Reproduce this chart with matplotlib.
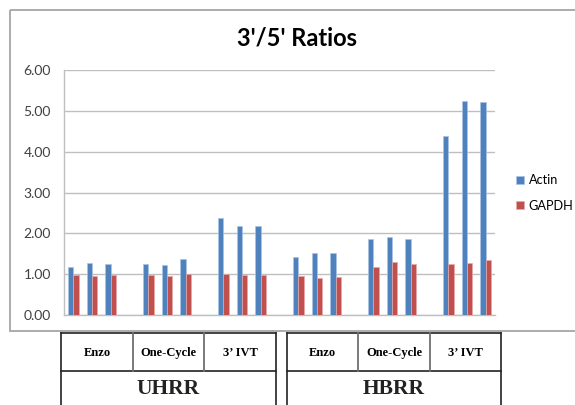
import numpy as np
import matplotlib
matplotlib.use("Agg")
import matplotlib.pyplot as plt
from matplotlib.patches import Rectangle

# 3'/5' ratios, three replicates per method, UHRR then HBRR
samples = ['UHRR', 'HBRR']
methods = ['Enzo', 'One-Cycle', '3\u2019 IVT']
actin = [1.18, 1.27, 1.25, 1.25, 1.23, 1.37, 2.37, 2.17, 2.17,
         1.42, 1.51, 1.52, 1.87, 1.90, 1.85, 4.39, 5.25, 5.21]
gapdh = [0.99, 0.96, 0.99, 0.98, 0.96, 1.01, 1.01, 0.99, 0.99,
         0.95, 0.91, 0.93, 1.17, 1.30, 1.25, 1.25, 1.27, 1.35]
yticks = [0, 1, 2, 3, 4, 5, 6]
n_rep = 3

W, H = 575, 405
fig = plt.figure(figsize=(W / 100, H / 100), dpi=100)

# overlay in pixel coords for the frame and the table under the chart
ov = fig.add_axes([0, 0, 1, 1])
ov.set_xlim(0, W)
ov.set_ylim(H, 0)
ov.axis('off')
ov.add_patch(Rectangle((10, 10), W + 10, 321, fill=False, ec='#a6a6a6', lw=1.3))

ax = fig.add_axes([64 / W, 1 - 315 / H, 431 / W, 245 / H])
n_groups = len(samples) * len(methods)
slots = np.array([g * (n_rep + 1) + r for g in range(n_groups) for r in range(n_rep)])
w = 0.286
ax.bar(slots - w / 2, actin, w, color='#4f81bd', edgecolor='#a9c4e6', lw=0.5, label='Actin', zorder=3)
ax.bar(slots + w / 2, gapdh, w, color='#c0504d', edgecolor='#e6a9a8', lw=0.5, label='GAPDH', zorder=3)

ax.set_xlim(-0.5, n_groups * (n_rep + 1) - 1.5)
ax.set_ylim(0, 6)
ax.set_yticks(yticks)
ax.set_yticklabels([f'{v:.2f}' for v in yticks], fontsize=10, color='#404040', family='Lato')
ax.tick_params(axis='y', length=0, pad=9.5)
ax.set_xticks([])
ax.yaxis.grid(True, color='#bfbfbf', lw=1, zorder=0)
for s in ['top', 'right']:
    ax.spines[s].set_visible(False)
for s in ['left', 'bottom']:
    ax.spines[s].set_color('#bfbfbf')
    ax.spines[s].set_linewidth(1)

fig.text(297 / W, 1 - 38 / H, "3'/5' Ratios", ha='center', va='center',
         fontsize=17, fontweight='bold', family='Lato')

fig.legend(loc='center left', bbox_to_anchor=(516 / W, 1 - 193 / H), frameon=False,
           prop={'family': 'Lato', 'size': 9.2}, handlelength=0.65, handleheight=0.65,
           handletextpad=0.35, labelspacing=1.05, borderpad=0, borderaxespad=0)

# table below the chart
tables = [[61, 133, 204, 276], [287, 358, 430, 501]]
top, mid, bot = 333, 371, H
for xs, sample in zip(tables, samples):
    ov.plot([xs[0], xs[-1]], [top, top], color='#222222', lw=1.2)
    ov.plot([xs[0], xs[-1]], [mid, mid], color='#222222', lw=1.2)
    ov.plot([xs[0], xs[0]], [top, bot], color='#222222', lw=1.2)
    ov.plot([xs[-1], xs[-1]], [top, bot], color='#222222', lw=1.2)
    for x in xs[1:-1]:
        ov.plot([x, x], [top, mid], color='#707070', lw=1.3)
    for i, m in enumerate(methods):
        ov.text((xs[i] + xs[i + 1]) / 2, (top + mid) / 2 + 1, m, ha='center', va='center',
                fontsize=9, fontweight='bold', family='Liberation Serif')
    ov.text((xs[0] + xs[-1]) / 2, 389, sample, ha='center', va='center',
            fontsize=15.5, fontweight='bold', family='Liberation Serif', color='#222222')

fig.savefig('out.png', dpi=100)
